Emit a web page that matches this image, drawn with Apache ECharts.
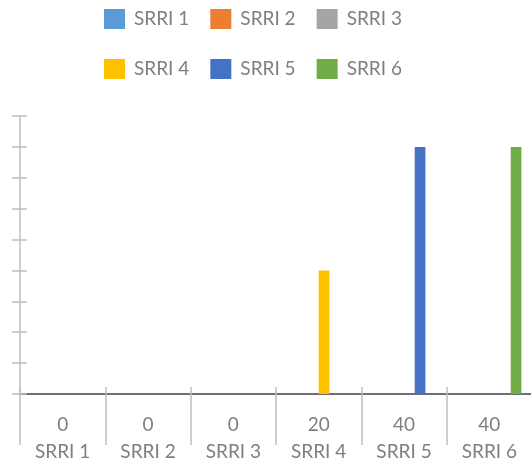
<!DOCTYPE html>
<html>
<head>
<meta charset="utf-8">
<script src="https://cdn.jsdelivr.net/npm/echarts@6/dist/echarts.min.js"></script>
<style>
html,body{margin:0;padding:0;background:#fff;}
#c{width:531px;height:459px;}
</style>
</head>
<body>
<div id="c"></div>
<script>
const categories = ['SRRI 1', 'SRRI 2', 'SRRI 3', 'SRRI 4', 'SRRI 5', 'SRRI 6'];
const values = [0, 0, 0, 20, 40, 40];
const colors = ['#5b9bd5', '#ed7d31', '#a5a5a5', '#ffc000', '#4472c4', '#70ad47'];
const yMin = 0, yMax = 45, yInterval = 5;

const FONT = 'Lato';
const TXT = '#7f7f7f';
const GRID = {left: 20, right: -1, top: 116, bottom: 65, containLabel: false, outerBoundsMode: 'none'};
const gridH = 459 - GRID.top - GRID.bottom;
const gridW = 531 - GRID.left - GRID.right;

const chart = echarts.init(document.getElementById('c'), null, {renderer: 'canvas'});

const legendCommon = {
  left: 104, orient: 'horizontal', itemWidth: 21, itemHeight: 20, itemGap: 21,
  padding: 0,
  icon: 'rect',
  textStyle: {color: TXT, fontFamily: FONT, fontSize: 19, padding: [0, 0, 0, 4]}
};

const series = categories.map((name, i) => ({
  name: name,
  type: 'bar',
  xAxisIndex: 0, yAxisIndex: 0,
  barWidth: 10.7,
  barGap: '0%',
  itemStyle: {color: colors[i]},
  data: categories.map((c, j) => (j === i ? values[i] : '-'))
}));

chart.setOption({
  animation: false,
  color: colors,
  legend: [
    Object.assign({top: 9, data: categories.slice(0, 3)}, legendCommon),
    Object.assign({top: 59, data: categories.slice(3)}, legendCommon)
  ],
  grid: GRID,
  xAxis: [
    {
      type: 'category', data: categories, position: 'bottom',
      axisLine: {show: true, lineStyle: {color: '#404040', width: 1.5}},
      axisTick: {show: true, inside: false, length: 51, lineStyle: {color: '#bfbfbf', width: 1.5}},
      axisLabel: {
        margin: 17, color: TXT, fontFamily: FONT, fontSize: 19, lineHeight: 27,
        formatter: (v, idx) => values[idx] + '\n' + v
      },
      splitLine: {show: false}
    },
    {
      type: 'category', data: categories, position: 'top', offset: -gridH,
      axisLine: {show: false},
      axisTick: {show: true, inside: false, length: 7, lineStyle: {color: '#bfbfbf', width: 1.5}},
      axisLabel: {show: false},
      splitLine: {show: false}
    }
  ],
  yAxis: [
    {
      type: 'value', min: yMin, max: yMax, interval: yInterval, position: 'left',
      axisLine: {show: true, lineStyle: {color: '#bfbfbf', width: 1.5}},
      axisTick: {show: true, inside: false, length: 8, lineStyle: {color: '#bfbfbf', width: 1.5}},
      axisLabel: {show: false},
      splitLine: {show: false}
    },
    {
      type: 'value', min: yMin, max: yMax, interval: yInterval, position: 'right', offset: -gridW,
      axisLine: {show: false},
      axisTick: {show: true, inside: false, length: 7, lineStyle: {color: '#bfbfbf', width: 1.5}},
      axisLabel: {show: false},
      splitLine: {show: false}
    }
  ],
  series: series
});
</script>
</body>
</html>
